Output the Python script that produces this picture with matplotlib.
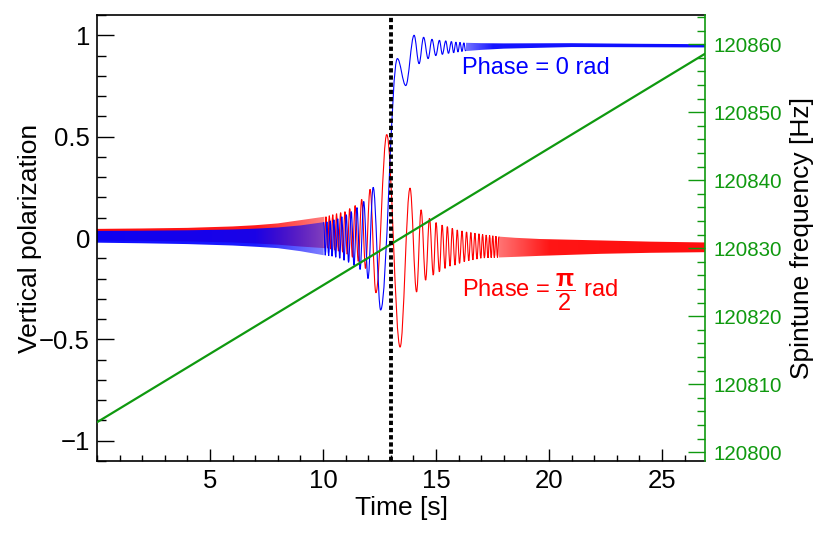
import numpy as np
import matplotlib
matplotlib.use("Agg")
import matplotlib.pyplot as plt
from matplotlib.path import Path
from matplotlib.patches import PathPatch
from matplotlib.colors import to_rgb
from matplotlib.ticker import MultipleLocator

plt.rcParams['font.family'] = ['Liberation Sans', 'DejaVu Sans']
plt.rcParams['mathtext.fontset'] = 'custom'
plt.rcParams['mathtext.rm'] = 'Liberation Sans'
plt.rcParams['mathtext.it'] = 'Liberation Sans:bold'
plt.rcParams['mathtext.bf'] = 'Liberation Sans:bold'

# ---------------- data ----------------
# Phase = 0 (blue): dense band before resonance (envelope)
blue_pre_t = [0.0, 2.0, 4.0, 6.0, 7.0, 8.0, 9.0, 10.03]
blue_pre_hi = [0.035, 0.036, 0.038, 0.042, 0.046, 0.052, 0.062, 0.078]
blue_pre_lo = [-0.023, -0.026, -0.030, -0.037, -0.043, -0.050, -0.065, -0.085]
# resolved extrema
blue_ext_t = [10.03, 10.10, 10.17, 10.25, 10.32, 10.40, 10.48, 10.56, 10.65, 10.74,
              10.83, 10.93, 11.03, 11.13, 11.25, 11.37, 11.50, 11.64, 11.80, 11.99,
              12.22, 12.55, 13.29, 13.66, 14.03, 14.25, 14.45, 14.65, 14.82, 14.99,
              15.15, 15.28, 15.43, 15.55, 15.68, 15.78, 15.88, 15.97, 16.06, 16.15,
              16.23, 16.31]
blue_ext_v = [0.078, -0.085, 0.080, -0.088, 0.085, -0.090, 0.090, -0.095, 0.095, -0.100,
              0.105, -0.110, 0.115, -0.120, 0.130, -0.135, 0.150, -0.155, 0.180, -0.200,
              0.250, -0.355, 0.885, 0.752, 1.000, 0.860, 0.990, 0.885, 0.980, 0.900,
              0.975, 0.906, 0.972, 0.911, 0.969, 0.914, 0.966, 0.918, 0.965, 0.920,
              0.963, 0.922]
# dense band after resonance
blue_post_t = [16.31, 17.0, 18.0, 21.0, 24.0, 26.9]
blue_post_hi = [0.963, 0.961, 0.960, 0.961, 0.958, 0.956]
blue_post_lo = [0.922, 0.928, 0.934, 0.942, 0.941, 0.940]

# Phase = pi/2 (red)
red_pre_t = [0.0, 2.0, 4.0, 6.0, 7.0, 8.0, 9.0, 10.06]
red_pre_hi = [0.045, 0.047, 0.050, 0.057, 0.063, 0.072, 0.088, 0.105]
red_pre_lo = [-0.012, -0.014, -0.017, -0.022, -0.027, -0.033, -0.042, -0.050]
red_ext_t = [10.06, 10.13, 10.20, 10.28, 10.35, 10.43, 10.51, 10.60, 10.68, 10.78,
             10.87, 10.97, 11.07, 11.18, 11.30, 11.42, 11.56, 11.71, 11.88, 12.08,
             12.34, 12.82, 13.41, 13.85, 14.14, 14.34, 14.54, 14.71, 14.88, 15.00,
             15.15, 15.27, 15.40, 15.50, 15.62, 15.72, 15.84, 15.94, 16.04, 16.15,
             16.25, 16.35, 16.45, 16.54, 16.63, 16.72, 16.81, 16.90, 16.98, 17.06,
             17.14, 17.22, 17.30, 17.37, 17.44, 17.51, 17.58, 17.65, 17.72, 17.78]
red_ext_v = [-0.050, 0.105, -0.050, 0.110, -0.055, 0.115, -0.060, 0.120, -0.065, 0.125,
             -0.070, 0.130, -0.080, 0.145, -0.095, 0.160, -0.115, 0.190, -0.150, 0.240,
             -0.270, 0.510, -0.538, 0.246, -0.266, 0.139, -0.208, 0.097, -0.183, 0.076,
             -0.167, 0.064, -0.150, 0.056, -0.139, 0.048, -0.134, 0.040, -0.125, 0.035,
             -0.117, 0.030, -0.112, 0.027, -0.108, 0.024, -0.104, 0.021, -0.100, 0.018,
             -0.099, 0.015, -0.098, 0.013, -0.097, 0.011, -0.097, 0.009, -0.096, 0.007]
red_post_t = [17.78, 18.5, 19.6, 22.3, 24.5, 26.9]
red_post_hi = [0.007, 0.001, -0.005, -0.012, -0.018, -0.022]
red_post_lo = [-0.096, -0.093, -0.088, -0.078, -0.073, -0.070]

# spintune frequency sweep (green line)
freq_t = [0.0, 26.9]
freq_hz = [120804.4, 120858.6]

t_resonance = 13.0
x_ticks = [5, 10, 15, 20, 25]

BLUE = '#0000ff'
RED = '#ff0000'
GREEN = '#0f990f'


def smooth_path(ts, vs):
    verts = [(ts[0], vs[0])]
    codes = [Path.MOVETO]
    k = 0.364
    for i in range(len(ts) - 1):
        dt = ts[i + 1] - ts[i]
        verts += [(ts[i] + k * dt, vs[i]), (ts[i + 1] - k * dt, vs[i + 1]), (ts[i + 1], vs[i + 1])]
        codes += [Path.CURVE4] * 3
    return Path(verts, codes)


def band(ax, ts, hi, lo, col, fade_t, fade_a):
    """Dense oscillation band: envelope polygon filled with a horizontal
    opacity ramp (where individual stripes start to separate)."""
    poly = ax.fill_between(ts, hi, lo, facecolor='none', edgecolor='none', lw=0)
    clip = poly.get_paths()[0]
    xs = np.linspace(ts[0], ts[-1], 400)
    alpha = np.interp(xs, fade_t, fade_a)
    rgba = np.zeros((2, xs.size, 4))
    rgba[..., :3] = to_rgb(col)
    rgba[..., 3] = alpha
    y0, y1 = min(lo) - 0.01, max(hi) + 0.01
    im = ax.imshow(rgba, extent=[ts[0], ts[-1], y0, y1], origin='lower',
                   aspect='auto', interpolation='bilinear', zorder=2)
    im.set_clip_path(clip, transform=ax.transData)


fig = plt.figure(figsize=(8.38, 5.35), dpi=100)
ax = fig.add_axes([97 / 838, 1 - 461 / 535, 608 / 838, 446 / 535])

band(ax, red_pre_t, red_pre_hi, red_pre_lo, RED, [0, 7, 10.06], [0.95, 0.9, 0.5])
band(ax, red_post_t, red_post_hi, red_post_lo, RED, [17.78, 20, 26.9], [0.55, 0.92, 0.95])
ax.add_patch(PathPatch(smooth_path(red_ext_t, red_ext_v), facecolor='none',
                       edgecolor=RED, lw=0.8, zorder=2.5))
band(ax, blue_pre_t, blue_pre_hi, blue_pre_lo, BLUE, [0, 7, 10.03], [0.95, 0.9, 0.5])
band(ax, blue_post_t, blue_post_hi, blue_post_lo, BLUE, [16.31, 17.5, 26.9], [0.55, 0.92, 0.95])
ax.add_patch(PathPatch(smooth_path(blue_ext_t, blue_ext_v), facecolor='none',
                       edgecolor=BLUE, lw=0.8, zorder=2.5))

ax.set_xlim(0, 26.9)
ax.set_ylim(-1.1, 1.1)
ax.set_aspect('auto')
ax.set_xticks(x_ticks)
ax.xaxis.set_minor_locator(MultipleLocator(1))
ax.yaxis.set_minor_locator(MultipleLocator(0.1))
ax.set_yticks([-1, -0.5, 0, 0.5, 1])
ax.set_yticklabels(['\u22121', '\u22120.5', '0', '0.5', '1'])
ax.tick_params(axis='both', which='both', direction='in', colors='black', labelsize=18.5)
ax.tick_params(axis='x', which='major', length=9, width=1, pad=6, top=False)
ax.tick_params(axis='x', which='minor', length=4.5, width=1, top=False)
ax.tick_params(axis='y', which='major', length=12.5, width=1, pad=5, right=False)
ax.tick_params(axis='y', which='minor', length=6.5, width=1, right=False)
for s in ax.spines.values():
    s.set_linewidth(1.2)
ax.spines['right'].set_visible(False)

ax.set_xlabel('Time [s]', fontsize=19, labelpad=2)
ax.set_ylabel('Vertical polarization', fontsize=19)
ax.yaxis.set_label_coords(-0.09, 0.5)

ax.text(16.15, 0.84, 'Phase = 0 rad', color=BLUE, fontsize=17, va='center', ha='left', zorder=5)
ax.text(16.15, -0.267, r'Phase = $\dfrac{\pi}{2}$ rad', color=RED, fontsize=17,
        va='center', ha='left', zorder=5)

ax2 = ax.twinx()
ax2.set_ylim(120798.7, 120864.3)
ax2.plot(freq_t, freq_hz, color=GREEN, lw=1.6, zorder=3)
ax2.yaxis.set_major_locator(MultipleLocator(10))
ax2.yaxis.set_minor_locator(MultipleLocator(2))
ax2.ticklabel_format(useOffset=False, style='plain')
ax2.tick_params(axis='y', which='both', direction='in', colors=GREEN, labelsize=14.8)
ax2.tick_params(axis='y', which='major', length=12, width=1, pad=6)
ax2.tick_params(axis='y', which='minor', length=6, width=1)
for name, s in ax2.spines.items():
    s.set_visible(name == 'right')
ax2.spines['right'].set_color(GREEN)
ax2.spines['right'].set_linewidth(1.2)
ax2.set_ylabel('Spintune frequency [Hz]', fontsize=19, color='black')
ax2.yaxis.set_label_coords(1.14, 0.5)
ax2.axvline(t_resonance, color='black', lw=2.8, dashes=(1.1, 0.75), zorder=6)
ax2.set_xlim(0, 26.9)

fig.savefig('out.png', dpi=100)
